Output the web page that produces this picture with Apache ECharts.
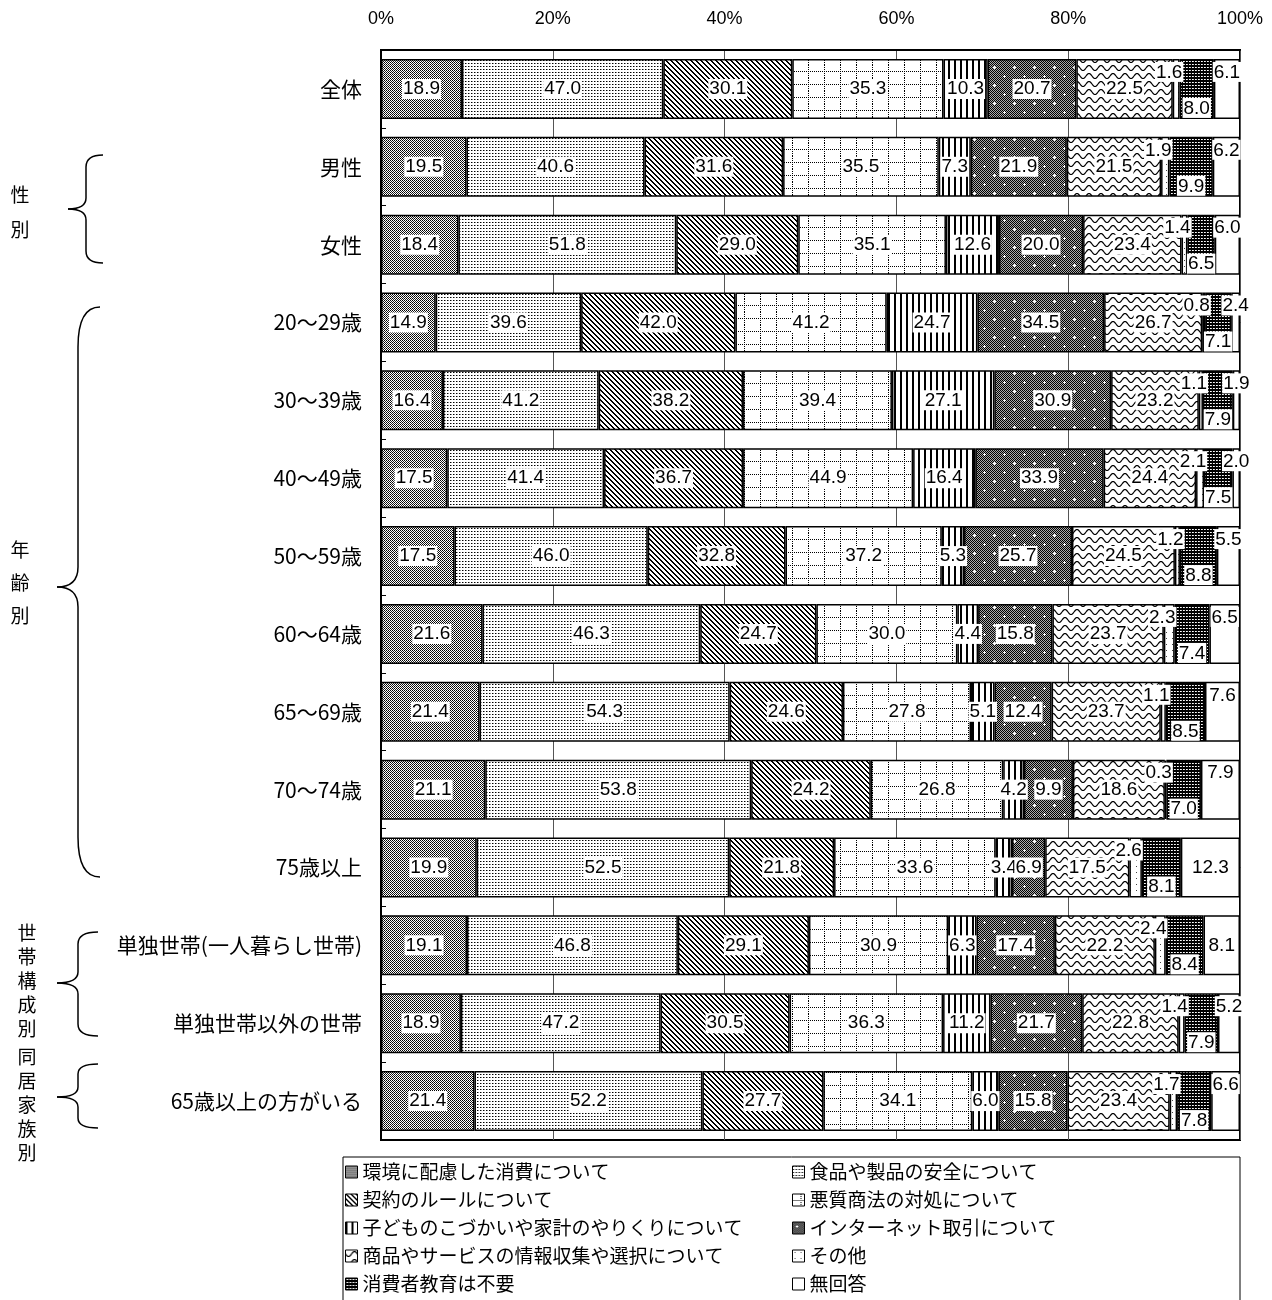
<!DOCTYPE html>
<html>
<head>
<meta charset="utf-8">
<script src="https://cdn.jsdelivr.net/npm/echarts@6/dist/echarts.min.js"></script>
<style>
html, body { margin: 0; padding: 0; background: #fff; }
#chart { width: 1272px; height: 1300px; }
</style>
</head>
<body>
<div id="chart"></div>
<script>
var categories = ['全体', '男性', '女性', '20〜29歳', '30〜39歳', '40〜49歳', '50〜59歳', '60〜64歳',
    '65〜69歳', '70〜74歳', '75歳以上', '単独世帯(一人暮らし世帯)', '単独世帯以外の世帯', '65歳以上の方がいる'];

var seriesNames = ['環境に配慮した消費について', '食品や製品の安全について', '契約のルールについて',
    '悪質商法の対処について', '子どものこづかいや家計のやりくりについて', 'インターネット取引について',
    '商品やサービスの情報収集や選択について', 'その他', '消費者教育は不要', '無回答'];

var env      = [18.9, 19.5, 18.4, 14.9, 16.4, 17.5, 17.5, 21.6, 21.4, 21.1, 19.9, 19.1, 18.9, 21.4];
var food     = [47.0, 40.6, 51.8, 39.6, 41.2, 41.4, 46.0, 46.3, 54.3, 53.8, 52.5, 46.8, 47.2, 52.2];
var contract = [30.1, 31.6, 29.0, 42.0, 38.2, 36.7, 32.8, 24.7, 24.6, 24.2, 21.8, 29.1, 30.5, 27.7];
var fraud    = [35.3, 35.5, 35.1, 41.2, 39.4, 44.9, 37.2, 30.0, 27.8, 26.8, 33.6, 30.9, 36.3, 34.1];
var child    = [10.3, 7.3, 12.6, 24.7, 27.1, 16.4, 5.3, 4.4, 5.1, 4.2, 3.4, 6.3, 11.2, 6.0];
var internet = [20.7, 21.9, 20.0, 34.5, 30.9, 33.9, 25.7, 15.8, 12.4, 9.9, 6.9, 17.4, 21.7, 15.8];
var goods    = [22.5, 21.5, 23.4, 26.7, 23.2, 24.4, 24.5, 23.7, 23.7, 18.6, 17.5, 22.2, 22.8, 23.4];
var other    = [1.6, 1.9, 1.4, 0.8, 1.1, 2.1, 1.2, 2.3, 1.1, 0.3, 2.6, 2.4, 1.4, 1.7];
var unneeded = [8.0, 9.9, 6.5, 7.1, 7.9, 7.5, 8.8, 7.4, 8.5, 7.0, 8.1, 8.4, 7.9, 7.8];
var noAnswer = [6.1, 6.2, 6.0, 2.4, 1.9, 2.0, 5.5, 6.5, 7.6, 7.9, 12.3, 8.1, 5.2, 6.6];

var xTicks = [0, 20, 40, 60, 80, 100];

// rows where the 無回答 label sits in the middle instead of at the top
var centerLabelRows = ['75歳以上', '単独世帯(一人暮らし世帯)'];

var raw = [env, food, contract, fraud, child, internet, goods, other, unneeded, noAnswer];

// each bar is drawn as 100% of its own total
var totals = categories.map(function (c, i) {
    var s = 0;
    raw.forEach(function (arr) { s += arr[i]; });
    return s;
});

// ---- hatch patterns (black & white like the printed report)
function tile(w, h, draw) {
    var c = document.createElement('canvas');
    c.width = w; c.height = h;
    var ctx = c.getContext('2d');
    ctx.fillStyle = '#fff';
    ctx.fillRect(0, 0, w, h);
    draw(ctx);
    return { image: c, repeat: 'repeat' };
}
function px(ctx, x, y, col) {
    ctx.fillStyle = col;
    ctx.fillRect(x, y, 1, 1);
}

var patterns = [
    tile(2, 2, function (ctx) { px(ctx, 0, 0, '#000'); px(ctx, 1, 1, '#222'); }),
    tile(3, 3, function (ctx) { px(ctx, 0, 0, '#000'); px(ctx, 1, 0, '#888'); }),
    tile(5, 5, function (ctx) {
        for (var i = 0; i < 5; i++) { px(ctx, i, i, '#000'); px(ctx, (i + 1) % 5, i, '#000'); }
    }),
    tile(16, 13, function (ctx) {
        for (var x = 0; x < 16; x += 2) px(ctx, x, 6, '#000');
        for (var y = 0; y < 13; y += 2) px(ctx, 8, y, '#000');
    }),
    tile(6, 1, function (ctx) { px(ctx, 0, 0, '#000'); px(ctx, 1, 0, '#000'); }),
    tile(20, 18, function (ctx) {
        for (var x = 0; x < 20; x++) {
            for (var y = 0; y < 18; y++) px(ctx, x, y, (x + y) % 2 ? '#aaa' : '#000');
        }
        [[4, 4], [14, 13]].forEach(function (p) {
            px(ctx, p[0], p[1], '#fff');
            px(ctx, p[0] - 1, p[1], '#fff'); px(ctx, p[0] + 1, p[1], '#fff');
            px(ctx, p[0], p[1] - 1, '#fff'); px(ctx, p[0], p[1] + 1, '#fff');
        });
    }),
    tile(12, 8, function (ctx) {
        ctx.strokeStyle = '#000';
        ctx.lineWidth = 1.2;
        ctx.beginPath();
        for (var x = -1; x <= 13; x += 0.5) {
            var y = 4 + 2.5 * Math.sin(2 * Math.PI * x / 12);
            if (x === -1) ctx.moveTo(x, y); else ctx.lineTo(x, y);
        }
        ctx.stroke();
    }),
    tile(6, 6, function (ctx) { px(ctx, 2, 2, '#444'); }),
    tile(3, 3, function (ctx) {
        ctx.fillStyle = '#000'; ctx.fillRect(0, 0, 3, 3);
        px(ctx, 1, 1, '#fff'); px(ctx, 2, 1, '#ccc');
    }),
    '#fff'
];

var numFont = '"Liberation Sans Narrow", "Liberation Sans", Arial, sans-serif';

var baseLabel = {
    show: true,
    color: '#000',
    fontSize: 19,
    fontFamily: numFont,
    backgroundColor: '#fff',
    padding: [1, 1, 0, 1],
    formatter: function (p) {
        return raw[p.seriesIndex][p.dataIndex].toFixed(1);
    }
};

var series = seriesNames.map(function (name, k) {
    var label = Object.assign({}, baseLabel, { position: 'inside' });
    if (k === 7) label = Object.assign({}, baseLabel, { position: 'insideTop', distance: 3, offset: [-7, 0] });
    if (k === 8) label = Object.assign({}, baseLabel, { position: 'insideBottom', distance: 1 });
    if (k === 9) label = Object.assign({}, baseLabel, { position: 'insideTop', distance: 3 });
    return {
        name: name,
        type: 'bar',
        stack: 'total',
        barWidth: 60,
        itemStyle: { color: patterns[k], borderColor: '#000', borderWidth: 1.5 },
        label: label,
        emphasis: { disabled: true },
        data: raw[k].map(function (v, i) {
            var pct = v / totals[i] * 100;
            if (k === 9 && centerLabelRows.indexOf(categories[i]) >= 0) {
                return { value: pct, label: { position: 'inside' } };
            }
            return pct;
        })
    };
});

// ---- curly braces for the group headings
function brace(x0, xm, xt, yTop, yMid, yBot, rEnd, rTip) {
    var st = { stroke: '#000', lineWidth: 1.5, fill: null };
    return [
        { type: 'bezierCurve', shape: { x1: x0, y1: yTop, x2: xm, y2: yTop + rEnd, cpx1: xm, cpy1: yTop }, style: st },
        { type: 'line', shape: { x1: xm, y1: yTop + rEnd, x2: xm, y2: yMid - rTip }, style: st },
        { type: 'bezierCurve', shape: { x1: xm, y1: yMid - rTip, x2: xt, y2: yMid, cpx1: xm, cpy1: yMid }, style: st },
        { type: 'bezierCurve', shape: { x1: xt, y1: yMid, x2: xm, y2: yMid + rTip, cpx1: xm, cpy1: yMid }, style: st },
        { type: 'line', shape: { x1: xm, y1: yMid + rTip, x2: xm, y2: yBot - rEnd }, style: st },
        { type: 'bezierCurve', shape: { x1: xm, y1: yBot - rEnd, x2: x0, y2: yBot, cpx1: xm, cpy1: yBot }, style: st }
    ];
}
function vtext(str, x, y, lh) {
    return {
        type: 'text', x: x, y: y,
        style: {
            text: str.split('').join('\n'), fill: '#000', fontSize: 19, lineHeight: lh,
            fontFamily: 'Noto Sans CJK JP', align: 'center', verticalAlign: 'top'
        }
    };
}

var graphics = []
    .concat(brace(103, 86, 68, 155, 209, 263, 12, 11))
    .concat(brace(100, 78, 57, 307, 587, 877, 40, 20))
    .concat(brace(98, 78, 57, 932, 983, 1036, 12, 11))
    .concat(brace(98, 78, 57, 1064, 1097, 1128, 10, 10));
graphics.push(vtext('性別', 20, 177, 35));
graphics.push(vtext('年齢別', 20, 533, 33));
graphics.push(vtext('世帯構成別', 27, 921, 24));
graphics.push(vtext('同居家族別', 27, 1045, 24));
graphics.push({
    type: 'rect', shape: { x: 343, y: 1157, width: 897, height: 160 },
    style: { fill: null, stroke: '#000', lineWidth: 1 }
});

var legendBase = {
    orient: 'vertical',
    padding: 0,
    itemWidth: 12,
    itemHeight: 12,
    itemGap: 8,
    icon: 'rect',
    itemStyle: { borderColor: '#000', borderWidth: 1 },
    textStyle: { color: '#000', fontSize: 19, lineHeight: 20, fontFamily: 'Noto Sans CJK JP' },
    selectedMode: false
};

var chart = echarts.init(document.getElementById('chart'));
chart.setOption({
    animation: false,
    grid: {
        left: 381, right: 32, top: 50, bottom: 160,
        show: true, borderColor: '#000', borderWidth: 2
    },
    xAxis: {
        type: 'value',
        position: 'top',
        min: xTicks[0],
        max: xTicks[xTicks.length - 1],
        interval: 20,
        axisLabel: { formatter: '{value}%', color: '#000', fontSize: 18, margin: 22, fontFamily: 'Liberation Sans' },
        axisLine: { show: true, lineStyle: { color: '#000', width: 2 } },
        axisTick: { show: false },
        splitLine: { show: true, lineStyle: { color: '#555', width: 1 } }
    },
    yAxis: {
        type: 'category',
        data: categories,
        inverse: true,
        axisLabel: { color: '#000', fontSize: 21, margin: 19, fontFamily: 'Noto Sans CJK JP' },
        axisLine: { show: true, lineStyle: { color: '#000', width: 2 } },
        axisTick: { show: true, inside: true, length: 5, lineStyle: { color: '#000' } }
    },
    legend: [
        Object.assign({}, legendBase, {
            left: 345, top: 1162,
            data: [seriesNames[0], seriesNames[2], seriesNames[4], seriesNames[6], seriesNames[8]]
        }),
        Object.assign({}, legendBase, {
            left: 792, top: 1162,
            data: [seriesNames[1], seriesNames[3], seriesNames[5], seriesNames[7], seriesNames[9]]
        })
    ],
    graphic: graphics,
    series: series
});
</script>
</body>
</html>
